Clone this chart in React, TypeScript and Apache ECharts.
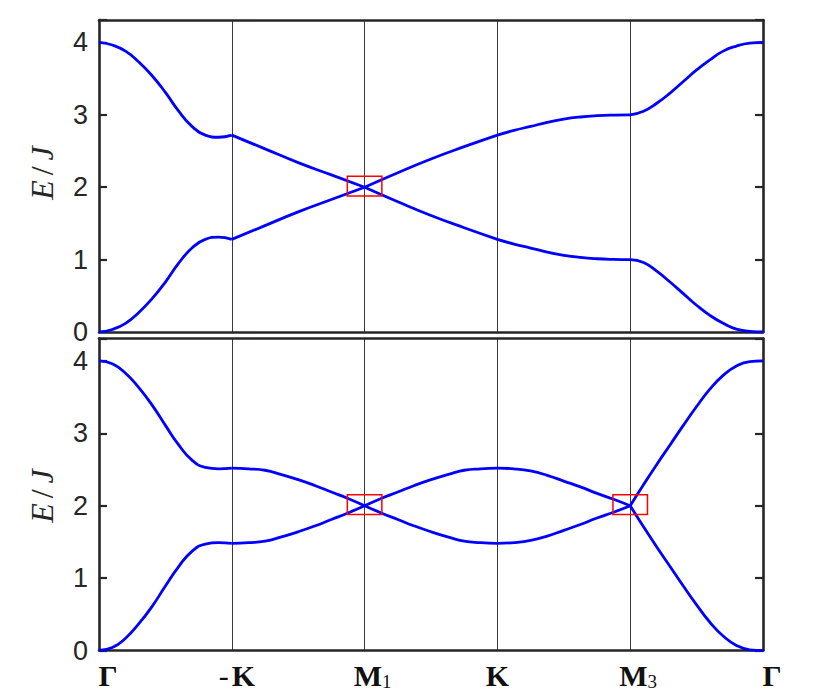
import React, { useEffect, useRef } from "react";
import * as echarts from "echarts";

// k-path tick labels (main glyph + optional subscript)
const xTickMain = ["Γ", "-K", "M", "K", "M", "Γ"];
const xTickSub = ["", "", "1", "", "3", ""];
const yTicks = [0, 1, 2, 3, 4];

// Top panel bands [k, E/J]
const topUpper = [
  [0, 4], [0.1, 3.965], [0.2, 3.88], [0.3, 3.73], [0.4, 3.54], [0.5, 3.31], [0.6, 3.05],
  [0.7, 2.84], [0.8, 2.72], [0.9, 2.69], [1, 2.72],
  [1.25, 2.53], [1.5, 2.34], [1.75, 2.17], [2, 2.0],
  [2.25, 2.2], [2.5, 2.39], [2.75, 2.56], [3, 2.72],
  [3.125, 2.785], [3.25, 2.84], [3.375, 2.895], [3.5, 2.94], [3.625, 2.97], [3.75, 2.988],
  [3.875, 2.997], [4, 3.0],
  [4.1, 3.05], [4.2, 3.16], [4.3, 3.3], [4.4, 3.46], [4.5, 3.62], [4.6, 3.76], [4.7, 3.88],
  [4.8, 3.95], [4.9, 3.99], [5, 4],
];
const topLower = [
  [0, 0], [0.1, 0.035], [0.2, 0.12], [0.3, 0.27], [0.4, 0.46], [0.5, 0.69], [0.6, 0.95],
  [0.7, 1.16], [0.8, 1.28], [0.9, 1.31], [1, 1.28],
  [1.25, 1.47], [1.5, 1.66], [1.75, 1.83], [2, 2.0],
  [2.25, 1.8], [2.5, 1.61], [2.75, 1.44], [3, 1.28],
  [3.125, 1.215], [3.25, 1.16], [3.375, 1.105], [3.5, 1.06], [3.625, 1.03], [3.75, 1.012],
  [3.875, 1.003], [4, 1.0],
  [4.1, 0.96], [4.2, 0.84], [4.3, 0.69], [4.4, 0.53], [4.5, 0.37], [4.6, 0.23], [4.7, 0.12],
  [4.8, 0.04], [4.9, 0.01], [5, 0],
];

// Bottom panel bands [k, E/J]
const bottomUpper = [
  [0, 4], [0.1, 3.96], [0.2, 3.83], [0.3, 3.63], [0.4, 3.39], [0.5, 3.11], [0.6, 2.84],
  [0.7, 2.63], [0.8, 2.53], [0.9, 2.51], [1, 2.52],
  [1.125, 2.51], [1.25, 2.49], [1.375, 2.43], [1.5, 2.36], [1.625, 2.28], [1.75, 2.19],
  [1.875, 2.1], [2, 2.0],
  [2.125, 2.1], [2.25, 2.19], [2.375, 2.28], [2.5, 2.36], [2.625, 2.43], [2.75, 2.49],
  [2.875, 2.51], [3, 2.52],
  [3.125, 2.51], [3.25, 2.48], [3.375, 2.42], [3.5, 2.34], [3.625, 2.26], [3.75, 2.17],
  [3.875, 2.09], [4, 2.0],
  [4.1, 2.29], [4.2, 2.57], [4.3, 2.84], [4.4, 3.11], [4.5, 3.37], [4.6, 3.61], [4.7, 3.8],
  [4.8, 3.93], [4.9, 3.99], [5, 4],
];
const bottomLower = [
  [0, 0], [0.1, 0.04], [0.2, 0.17], [0.3, 0.37], [0.4, 0.61], [0.5, 0.89], [0.6, 1.16],
  [0.7, 1.37], [0.8, 1.47], [0.9, 1.49], [1, 1.48],
  [1.125, 1.49], [1.25, 1.51], [1.375, 1.57], [1.5, 1.64], [1.625, 1.72], [1.75, 1.81],
  [1.875, 1.9], [2, 2.0],
  [2.125, 1.9], [2.25, 1.81], [2.375, 1.72], [2.5, 1.64], [2.625, 1.57], [2.75, 1.51],
  [2.875, 1.49], [3, 1.48],
  [3.125, 1.49], [3.25, 1.52], [3.375, 1.58], [3.5, 1.66], [3.625, 1.74], [3.75, 1.83],
  [3.875, 1.91], [4, 2.0],
  [4.1, 1.71], [4.2, 1.43], [4.3, 1.16], [4.4, 0.89], [4.5, 0.63], [4.6, 0.39], [4.7, 0.2],
  [4.8, 0.07], [4.9, 0.01], [5, 0],
];

// Highlight boxes [x0, y0, x1, y1]
const topBoxes = [[1.87, 1.88, 2.13, 2.15]];
const bottomBoxes = [
  [1.87, 1.88, 2.13, 2.15],
  [3.87, 1.88, 4.13, 2.15],
];

const Y_MAX = 4.31;
const FRAME = { color: "#262626", width: 2.6 };
const SERIF = '"Liberation Serif", "Times New Roman", serif';

function splitSegments(pts: number[][]) {
  const segs: number[][][] = [];
  let cur: number[][] = [];
  for (const p of pts) {
    cur.push(p);
    if (Number.isInteger(p[0]) && cur.length > 1) {
      segs.push(cur);
      cur = [p];
    }
  }
  return segs;
}

export default function App() {
  const ref = useRef<HTMLDivElement>(null);

  useEffect(() => {
    if (!ref.current) return;
    const chart = echarts.init(ref.current, undefined, { renderer: "svg" });

    const grids = [
      { left: 99, top: 20, width: 664, height: 312 },
      { left: 99, top: 338.5, width: 664, height: 312 },
    ].map((g) => ({ ...g, show: false }));

    const labelStyle = (extra: any) => ({
      fontFamily: SERIF,
      fontWeight: "bold",
      fontSize: 30,
      lineHeight: 30,
      color: "#111",
      ...extra,
    });

    const xAxes: any[] = [];
    [0, 1].forEach((g) => {
      xAxes.push({
        type: "value",
        gridIndex: g,
        position: "bottom",
        min: 0,
        max: 5,
        interval: 1,
        axisLine: { show: true, onZero: false, lineStyle: FRAME },
        axisTick: { show: false },
        splitLine: { show: true, lineStyle: { color: "#3a3a3a", width: 1 } },
        axisLabel:
          g === 1
            ? {
                show: true,
                margin: 10,
                formatter: (v: number) => {
                  const i = Math.round(v);
                  const main = xTickMain[i];
                  const sub = xTickSub[i];
                  if (main === "Γ") return `{g|${main}}`;
                  if (main === "-K") return `{d|-}{b|K}`;
                  if (sub) return `{m|${main}}{s|${sub}}`;
                  return `{b|${main}}`;
                },
                rich: {
                  g: labelStyle({ padding: [0, 0, 0, 18] }),
                  b: labelStyle({}),
                  d: labelStyle({ fontWeight: "normal", padding: [0, 3, 0, 10] }),
                  m: labelStyle({ padding: [0, 0, 0, 16] }),
                  s: {
                    fontFamily: SERIF,
                    fontWeight: "normal",
                    fontSize: 19,
                    lineHeight: 14,
                    verticalAlign: "bottom",
                    color: "#111",
                  },
                },
              }
            : { show: false },
      });
      xAxes.push({
        type: "value",
        gridIndex: g,
        position: "top",
        min: 0,
        max: 5,
        interval: 1,
        axisLine: { show: true, onZero: false, lineStyle: FRAME },
        axisTick: { show: false },
        splitLine: { show: false },
        axisLabel: { show: false },
      });
    });

    const yAxes: any[] = [];
    [0, 1].forEach((g) => {
      ["left", "right"].forEach((pos) => {
        yAxes.push({
          type: "value",
          gridIndex: g,
          position: pos,
          min: 0,
          max: Y_MAX,
          interval: 1,
          axisLine: { show: true, onZero: false, lineStyle: FRAME },
          splitLine: { show: false },
          axisTick: {
            show: true,
            inside: true,
            length: 8,
            lineStyle: { color: "#262626", width: 2.2 },
          },
          axisLabel:
            pos === "left"
              ? {
                  show: true,
                  margin: 11,
                  fontSize: 27,
                  color: "#262626",
                  fontFamily: '"Liberation Sans", Arial, Helvetica, sans-serif',
                  formatter: (v: number) =>
                    yTicks.includes(Math.round(v * 1000) / 1000) ? String(Math.round(v)) : "",
                }
              : { show: false },
        });
      });
    });

    const series: any[] = [];
    const panels = [
      { bands: [topUpper, topLower], boxes: topBoxes },
      { bands: [bottomUpper, bottomLower], boxes: bottomBoxes },
    ];
    panels.forEach((p, g) => {
      p.bands.forEach((band) => {
        splitSegments(band).forEach((seg) => {
          series.push({
            type: "line",
            xAxisIndex: g * 2,
            yAxisIndex: g * 2,
            data: seg,
            smooth: 0.5,
            symbol: "none",
            showSymbol: false,
            silent: true,
            z: 3,
            lineStyle: { color: "#0000ff", width: 2.8 },
          });
        });
      });
      series.push({
        type: "line",
        xAxisIndex: g * 2,
        yAxisIndex: g * 2,
        data: [[2, 2]],
        symbol: "none",
        showSymbol: false,
        silent: true,
        z: 5,
        lineStyle: { width: 0 },
        markArea: {
          silent: true,
          z: 5,
          itemStyle: {
            color: "rgba(0,0,0,0)",
            borderColor: "#ff0000",
            borderWidth: 1.5,
          },
          data: p.boxes.map((b) => [{ coord: [b[0], b[1]] }, { coord: [b[2], b[3]] }]),
        },
      });
    });

    chart.setOption({
      animation: false,
      backgroundColor: "#ffffff",
      grid: grids,
      xAxis: xAxes,
      yAxis: yAxes,
      series,
      graphic: [173, 496].map((cy) => ({
        type: "text",
        x: 42,
        y: cy,
        rotation: Math.PI / 2,
        style: {
          text: "{i|E}{n|/}{i|J}",
          align: "center",
          verticalAlign: "middle",
          rich: {
            i: { fontFamily: SERIF, fontStyle: "italic", fontSize: 32, fill: "#262626" },
            n: {
              fontFamily: SERIF,
              fontSize: 32,
              fill: "#262626",
              padding: [0, 6, 0, 5],
            },
          },
        },
      })),
    });

    return () => chart.dispose();
  }, []);

  return (
    <div
      ref={ref}
      style={{ position: "fixed", left: 0, top: 0, width: 830, height: 692, background: "#fff" }}
    />
  );
}
